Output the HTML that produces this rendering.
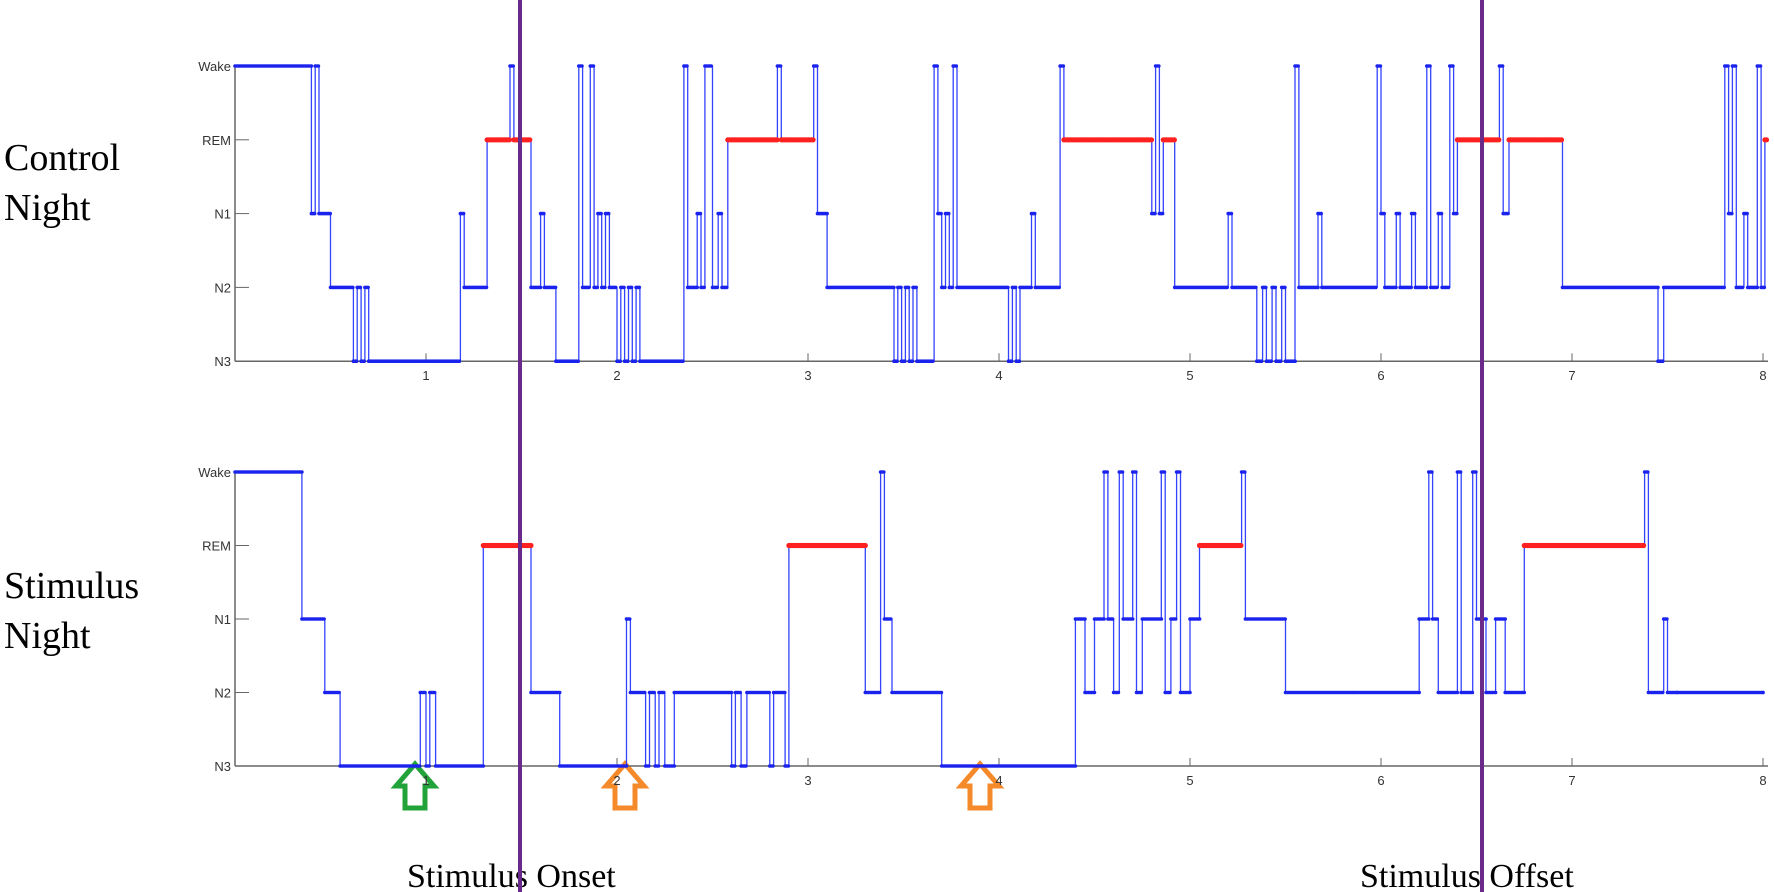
<!DOCTYPE html>
<html><head><meta charset="utf-8"><style>
body{margin:0;background:#fff;}
svg{display:block}
.lab{font-family:"Liberation Serif",serif;font-size:38px;fill:#000}
.tk{font-family:"Liberation Sans",sans-serif;font-size:13px;fill:#333}
</style></head><body>
<svg id="s" width="1774" height="892" xmlns="http://www.w3.org/2000/svg">
<text class="lab" x="4" y="170">Control</text>
<text class="lab" x="4" y="220">Night</text>
<text class="lab" x="4" y="598">Stimulus</text>
<text class="lab" x="4" y="648">Night</text>
<text class="lab" x="407" y="887" style="font-size:34px">Stimulus Onset</text>
<text class="lab" x="1360" y="887" style="font-size:34px">Stimulus Offset</text>
<path d="M405 808 L425 808 L425 786 L434 786 L415 764 L396 786 L405 786 Z" fill="none" stroke="#22a33a" stroke-width="5"/>
<path d="M615 808 L635 808 L635 786 L644 786 L625 764 L606 786 L615 786 Z" fill="none" stroke="#f58a2a" stroke-width="5"/>
<path d="M970 808 L990 808 L990 786 L999 786 L980 764 L961 786 L970 786 Z" fill="none" stroke="#f58a2a" stroke-width="5"/>
<g id="g"></g>
<line x1="520" y1="0" x2="520" y2="892" stroke="#6a2a8a" stroke-width="4"/>
<line x1="1482" y1="0" x2="1482" y2="892" stroke="#6a2a8a" stroke-width="4"/>
</svg>
<script>
const X0=235,PX=191;
const ctrl=[[0,0],[0.4,2],[0.42,0],[0.44,2],[0.5,3],[0.62,4],[0.64,3],[0.66,4],[0.68,3],[0.7,4],[1.18,2],[1.2,3],[1.32,1],[1.44,0],[1.46,1],[1.55,3],[1.6,2],[1.62,3],[1.68,4],[1.8,0],[1.82,3],[1.86,0],[1.88,3],[1.9,2],[1.92,3],[1.94,2],[1.96,3],[2.0,4],[2.02,3],[2.04,4],[2.06,3],[2.08,4],[2.1,3],[2.12,4],[2.35,0],[2.37,3],[2.42,2],[2.44,3],[2.46,0],[2.5,3],[2.53,2],[2.55,3],[2.58,1],[2.84,0],[2.86,1],[3.03,0],[3.05,2],[3.1,3],[3.45,4],[3.47,3],[3.49,4],[3.51,3],[3.53,4],[3.55,3],[3.57,4],[3.66,0],[3.68,2],[3.7,3],[3.72,2],[3.74,3],[3.76,0],[3.78,3],[4.05,4],[4.07,3],[4.09,4],[4.11,3],[4.17,2],[4.19,3],[4.32,0],[4.34,1],[4.8,2],[4.82,0],[4.84,2],[4.86,1],[4.92,3],[5.2,2],[5.22,3],[5.35,4],[5.38,3],[5.4,4],[5.43,3],[5.45,4],[5.48,3],[5.5,4],[5.55,0],[5.57,3],[5.67,2],[5.69,3],[5.98,0],[6.0,2],[6.02,3],[6.08,2],[6.1,3],[6.16,2],[6.18,3],[6.24,0],[6.26,3],[6.3,2],[6.32,3],[6.36,0],[6.38,2],[6.4,1],[6.62,0],[6.64,2],[6.67,1],[6.95,3],[7.45,4],[7.48,3],[7.8,0],[7.82,2],[7.84,0],[7.86,3],[7.9,2],[7.92,3],[7.97,0],[7.99,3],[8.01,1],[8.05,1]];
const stim=[[0,0],[0.35,2],[0.47,3],[0.55,4],[0.97,3],[1.0,4],[1.02,3],[1.05,4],[1.3,1],[1.55,3],[1.7,4],[2.05,2],[2.07,3],[2.15,4],[2.17,3],[2.2,4],[2.22,3],[2.25,4],[2.3,3],[2.6,4],[2.62,3],[2.65,4],[2.68,3],[2.8,4],[2.82,3],[2.88,4],[2.9,1],[3.3,3],[3.38,0],[3.4,2],[3.44,3],[3.7,4],[4.4,2],[4.45,3],[4.5,2],[4.55,0],[4.57,2],[4.6,3],[4.63,0],[4.65,2],[4.7,0],[4.72,3],[4.75,2],[4.85,0],[4.87,3],[4.9,2],[4.93,0],[4.95,3],[5.0,2],[5.05,1],[5.27,0],[5.29,2],[5.5,3],[6.2,2],[6.25,0],[6.27,2],[6.3,3],[6.4,0],[6.42,3],[6.48,0],[6.5,2],[6.55,3],[6.6,2],[6.65,3],[6.75,1],[7.38,0],[7.4,3],[7.48,2],[7.5,3],[7.55,3],[8.0,3]];
function plot(data,y0,sp,end){
 let o='';const g=document.getElementById('g');
 const Y=s=>y0+s*sp, Xh=h=>X0+h*PX;
 const yb=y0+4*sp;
 o+=`<line x1="${X0}" y1="${y0}" x2="${X0}" y2="${yb}" stroke="#666" stroke-width="1.5"/>`;
 o+=`<line x1="${X0}" y1="${yb}" x2="1768" y2="${yb}" stroke="#666" stroke-width="1.5"/>`;
 ['Wake','REM','N1','N2','N3'].forEach((n,i)=>{o+=`<text class="tk" x="${X0-4}" y="${Y(i)+5}" text-anchor="end">${n}</text>`;if(i>0&&i<4)o+=`<line x1="${X0}" y1="${Y(i)}" x2="${X0+14}" y2="${Y(i)}" stroke="#666"/>`;});
 for(let k=1;k<=8;k++){o+=`<line x1="${Xh(k)}" y1="${yb}" x2="${Xh(k)}" y2="${yb-8}" stroke="#666"/><text class="tk" x="${Xh(k)}" y="${yb+19}" text-anchor="middle">${k}</text>`;}
 let p='',dots='',red='';
 for(let i=0;i<data.length;i++){
  const [h,s]=data[i];const h2=i+1<data.length?data[i+1][0]:end;if(h>end)break;
  p+=(i?'L':'M')+Xh(h).toFixed(1)+' '+Y(s)+' L'+Xh(Math.min(h2,end)).toFixed(1)+' '+Y(s)+' ';
  for(let t=h;t<Math.min(h2,end)+0.001;t+=1/120){
   if(s==1)red+=`<circle cx="${Xh(t).toFixed(1)}" cy="${Y(s)}" r="2.6"/>`;
   else dots+=`<circle cx="${Xh(t).toFixed(1)}" cy="${Y(s)}" r="1.8"/>`;
  }
 }
 o+=`<path d="${p}" fill="none" stroke="#3344ff" stroke-width="1.3"/>`;
 o+=`<g fill="#1a22ee">${dots}</g><g fill="#ff2020">${red}</g>`;
 g.insertAdjacentHTML('beforeend',o);
}
plot(ctrl,66,73.8,8.02);
plot(stim,472,73.5,8.0);
</script>
</body></html>
